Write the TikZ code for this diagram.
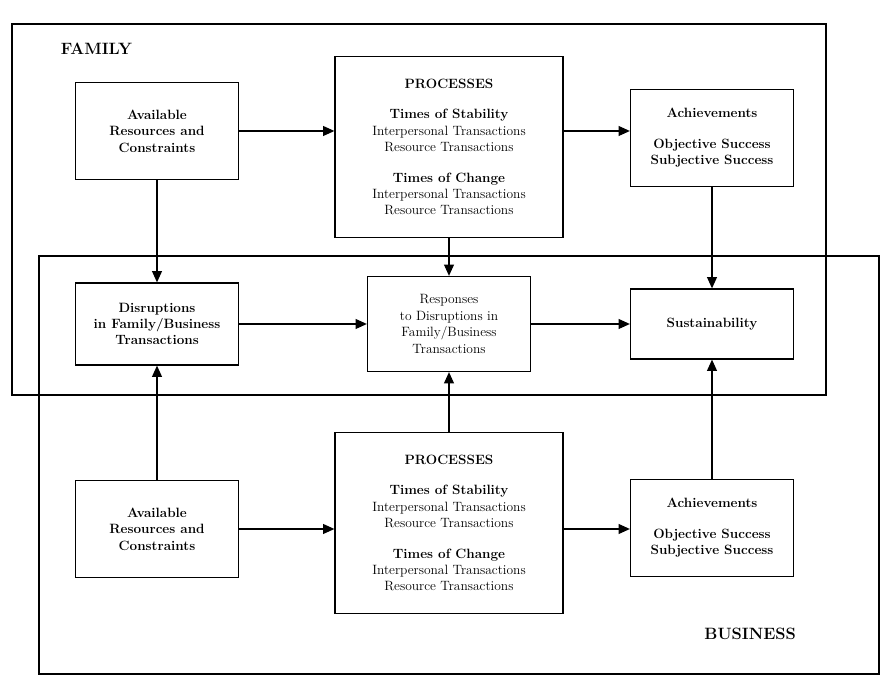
\documentclass[tikz,border=0pt]{standalone}
\usetikzlibrary{arrows.meta}
\begin{document}
\begin{tikzpicture}[>={Triangle[length=3.4mm,width=3mm]}]

	\def\colA{4.71}
	\def\colB{13.47}
	\def\colC{21.36}
	\def\rowmid{11.1}
	\def\boxw{4.89}
	\def\boxh{2.91}

	% Styles
	\tikzstyle{frame}=[line width=1.5pt]
	\tikzstyle{box}=[draw, line width=1.1pt, align=center, minimum width=\boxw cm, minimum height=\boxh cm, inner sep=2pt, font=\fontsize{11.5}{14}\selectfont]
	\tikzstyle{boldbox}=[box, font=\fontsize{11.5}{14}\selectfont\bfseries]
	\tikzstyle{procbox}=[box, minimum width=6.84cm, minimum height=5.43cm]
	\tikzstyle{link}=[->, line width=1pt]
	\tikzstyle{area}=[font=\fontsize{14}{16}\selectfont\bfseries]

	\useasboundingbox (0,0) rectangle (26.49,20.82);

	% Family and business frames
	\draw[frame] (0.36,8.97) rectangle (24.78,20.1);
	\draw[frame] (1.17,0.6) rectangle (26.37,13.14);
	\node[area, anchor=west] (family) at (1.7,19.35) {FAMILY};
	\node[area, anchor=east] (business) at (24.0,1.8) {BUSINESS};

	% Family row
	\node[boldbox] (favail) at (\colA,16.89) {Available\\Resources and\\Constraints};
	\node[procbox] (fproc) at (\colB,16.41) {{\bfseries PROCESSES}\\[12pt]
		{\bfseries Times of Stability}\\Interpersonal Transactions\\Resource Transactions\\[12pt]
		{\bfseries Times of Change}\\Interpersonal Transactions\\Resource Transactions};
	\node[boldbox] (fach) at (\colC,16.68) {Achievements\\[12pt]Objective Success\\Subjective Success};

	% Shared row
	\node[boldbox, minimum height=2.46cm] (disrupt) at (\colA,\rowmid) {Disruptions\\in Family/Business\\Transactions};
	\node[box, minimum height=2.85cm] (respond) at (\colB,\rowmid) {Responses\\to Disruptions in\\Family/Business\\Transactions};
	\node[boldbox, minimum height=2.1cm] (sustain) at (\colC,\rowmid) {Sustainability};

	% Business row
	\node[boldbox] (bavail) at (\colA,4.95) {Available\\Resources and\\Constraints};
	\node[procbox] (bproc) at (\colB,5.13) {{\bfseries PROCESSES}\\[12pt]
		{\bfseries Times of Stability}\\Interpersonal Transactions\\Resource Transactions\\[12pt]
		{\bfseries Times of Change}\\Interpersonal Transactions\\Resource Transactions};
	\node[boldbox] (bach) at (\colC,4.98) {Achievements\\[12pt]Objective Success\\Subjective Success};

	% Links
	\draw[link] (favail.east) -- (favail.east -| fproc.west);
	\draw[link] (favail.east -| fproc.east) -- (favail.east -| fach.west);
	\draw[link] (disrupt) -- (respond);
	\draw[link] (respond) -- (sustain);
	\draw[link] (bavail.east) -- (bavail.east -| bproc.west);
	\draw[link] (bavail.east -| bproc.east) -- (bavail.east -| bach.west);

	\draw[link] (favail) -- (disrupt);
	\draw[link] (fproc) -- (respond);
	\draw[link] (fach) -- (sustain);
	\draw[link] (bavail) -- (disrupt);
	\draw[link] (bproc) -- (respond);
	\draw[link] (bach) -- (sustain);

\end{tikzpicture}
\end{document}
